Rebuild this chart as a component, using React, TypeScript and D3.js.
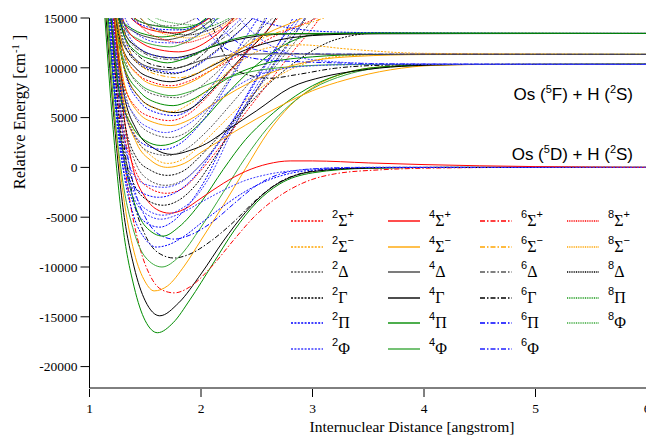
import React from 'react';
import * as d3 from 'd3';

// axis ticks
const X_TICKS = [1, 2, 3, 4, 5, 6];
const Y_TICKS = [15000, 10000, 5000, 0, -5000, -10000, -15000, -20000];

// legend columns (one per spin multiplicity)
const LEGEND_COLS = [
  ['2S+', '2S-', '2D', '2G', '2P', '2F'],
  ['4S+', '4S-', '4D', '4G', '4P', '4F'],
  ['6S+', '6S-', '6D', '6G', '6P', '6F'],
  ['8S+', '8S-', '8D', '8P', '8F'],
];

// dissociation limits
const LIMITS = [
  { term: '5F', y: 10350, off: 36 },
  { term: '5D', y: 0, off: -7 },
];

// potential energy curves: [distance (angstrom), energy (cm-1)]
const CURVES: { s: string; p: [number, number][] }[] = [
  // lower states -> Os(5D) + H(2S)
  { s: '4P', p: [[1.12, 18000], [1.2, 5500], [1.3, -6000], [1.4, -12000], [1.5, -15400], [1.61, -16600], [1.75, -15600], [1.9, -13300], [2.1, -9800], [2.3, -6300], [2.5, -3500], [2.7, -1700], [3.0, -550], [3.5, -90], [4.2, 0], [6, 0]] },
  { s: '4G', p: [[1.13, 18000], [1.2, 7500], [1.3, -4000], [1.4, -10000], [1.5, -13400], [1.63, -14900], [1.8, -13600], [2.0, -10700], [2.2, -7400], [2.4, -4500], [2.6, -2300], [2.8, -1000], [3.0, -420], [3.5, -60], [4.2, 0], [6, 0]] },
  { s: '4S-', p: [[1.14, 18000], [1.21, 7000], [1.3, -2500], [1.4, -8500], [1.5, -11500], [1.58, -12400], [1.7, -11900], [1.85, -9900], [2.0, -7300], [2.2, -3800], [2.4, -100], [2.6, 3500], [2.8, 6200], [3.0, 8000], [3.3, 9500], [3.7, 10150], [4.3, 10330], [6, 10350]] },
  { s: '6S+', p: [[1.17, 18000], [1.25, 7000], [1.35, -2500], [1.45, -8000], [1.55, -11000], [1.65, -12300], [1.76, -12600], [1.9, -12000], [2.1, -9900], [2.3, -7200], [2.5, -4700], [2.7, -2900], [2.95, -1400], [3.2, -650], [3.6, -250], [4.2, -50], [5, 0], [6, 0]] },
  { s: '4F', p: [[1.14, 18000], [1.22, 6000], [1.3, -1500], [1.4, -6500], [1.5, -9000], [1.65, -10000], [1.8, -9000], [2.0, -6000], [2.2, -2500], [2.4, 1000], [2.6, 4000], [2.8, 6300], [3.0, 7900], [3.3, 9300], [3.7, 10100], [4.3, 10330], [6, 10350]] },
  { s: '6G', p: [[1.18, 18000], [1.27, 6000], [1.4, -3500], [1.5, -6800], [1.62, -8600], [1.76, -9100], [1.9, -8700], [2.1, -7300], [2.3, -5400], [2.5, -3200], [2.7, -1500], [2.9, -600], [3.2, -150], [3.8, 0], [6, 0]] },
  { s: '6P', p: [[1.18, 18000], [1.27, 7000], [1.4, -2000], [1.5, -5000], [1.62, -6700], [1.76, -7200], [1.9, -6800], [2.1, -5500], [2.3, -3600], [2.5, -1800], [2.7, -700], [3.0, -150], [3.5, 0], [6, 0]] },
  { s: '2P', p: [[1.15, 18000], [1.22, 8000], [1.3, 0], [1.4, -5000], [1.5, -7200], [1.6, -8000], [1.7, -7800], [1.85, -6900], [2.0, -5600], [2.2, -3900], [2.4, -2400], [2.6, -1300], [2.8, -600], [3.1, -200], [3.6, 0], [6, 0]] },
  { s: '4P', p: [[1.15, 18000], [1.22, 8000], [1.3, 1500], [1.4, -3500], [1.5, -5900], [1.66, -6900], [1.8, -6000], [2.0, -3500], [2.2, -200], [2.4, 2800], [2.6, 5000], [2.8, 6800], [3.0, 8200], [3.3, 9500], [3.7, 10150], [4.3, 10330], [6, 10350]] },
  { s: '4S+', p: [[1.2, 18000], [1.3, 6000], [1.4, -500], [1.5, -3000], [1.6, -4200], [1.72, -4600], [1.85, -4200], [2.0, -3100], [2.2, -1600], [2.4, -400], [2.6, 350], [2.8, 650], [3.0, 650], [3.5, 450], [4, 280], [5, 80], [6, 0]] },
  { s: '2P', p: [[1.16, 18000], [1.25, 4000], [1.4, -3800], [1.5, -5500], [1.63, -6000], [1.75, -5400], [1.9, -3600], [2.05, -1000], [2.2, 2500], [2.35, 6000], [2.5, 9000], [2.7, 12500], [2.9, 15500], [3.0, 17000]] },
  { s: '2F', p: [[1.17, 18000], [1.26, 5000], [1.4, -2500], [1.52, -4300], [1.66, -4800], [1.8, -4300], [1.95, -3000], [2.1, -500], [2.25, 3000], [2.4, 6300], [2.6, 10000], [2.8, 13500], [2.95, 16000]] },
  { s: '2D', p: [[1.2, 18000], [1.28, 6000], [1.4, 800], [1.5, -1000], [1.68, -1800], [1.85, -1200], [2.0, 300], [2.2, 3200], [2.4, 6300], [2.6, 9200], [2.8, 12000], [3.05, 15500]] },
  { s: '2G', p: [[1.2, 18000], [1.3, 5500], [1.42, 1000], [1.55, -300], [1.7, -800], [1.85, -300], [2.0, 1200], [2.2, 3600], [2.4, 6000], [2.6, 8300], [2.9, 11000], [3.2, 12800], [3.6, 13500], [4.2, 13480], [6, 13450]] },
  { s: '2S+', p: [[1.19, 18000], [1.27, 6000], [1.4, 0], [1.5, -1800], [1.69, -2600], [1.85, -2000], [2.0, -300], [2.2, 2500], [2.4, 5500], [2.6, 8400], [2.8, 11300], [3.0, 14000], [3.1, 15500]] },
  { s: '2S-', p: [[1.2, 18000], [1.3, 7500], [1.42, 3000], [1.55, 1200], [1.7, 400], [1.85, 900], [2.0, 2300], [2.2, 4500], [2.4, 6700], [2.6, 8500], [2.9, 10300], [3.3, 11200], [4, 11400], [6, 11350]] },
  { s: '2F', p: [[1.16, 18000], [1.24, 6000], [1.35, -1500], [1.5, -4600], [1.64, -5200], [1.8, -4700], [2.0, -3500], [2.2, -2300], [2.4, -1300], [2.6, -700], [2.9, -250], [3.4, 0], [6, 0]] },
  { s: '2G', p: [[1.18, 18000], [1.26, 5500], [1.38, -1200], [1.52, -3300], [1.66, -3800], [1.8, -3300], [1.95, -1800], [2.1, 600], [2.3, 4200], [2.5, 7800], [2.7, 11200], [2.9, 14300], [3.0, 16000]] },
  { s: '2P', p: [[1.17, 18000], [1.25, 5000], [1.37, -1500], [1.5, -2700], [1.62, -3000], [1.76, -2600], [1.92, -1200], [2.1, 1500], [2.3, 5000], [2.5, 8800], [2.7, 12500], [2.85, 15500]] },
  { s: '2F', p: [[1.18, 18000], [1.27, 6000], [1.4, -800], [1.53, -1800], [1.67, -2000], [1.82, -1500], [2.0, 300], [2.2, 3000], [2.4, 6200], [2.6, 9400], [2.8, 12600], [2.95, 15400]] },
  // upper states
  { s: '4S-', p: [[1.2, 18000], [1.3, 7000], [1.42, 2500], [1.55, 700], [1.7, 0], [1.85, 400], [2.0, 1500], [2.2, 2900], [2.6, 5500], [3.0, 7700], [3.3, 8800], [3.7, 9800], [4.1, 10250], [4.6, 10340], [6, 10350]] },
  { s: '4G', p: [[1.2, 18000], [1.3, 8000], [1.42, 3800], [1.58, 1900], [1.74, 1300], [1.9, 1700], [2.05, 2400], [2.2, 3500], [2.5, 5700], [2.8, 8000], [3.1, 9100], [3.4, 9700], [3.8, 10150], [4.4, 10330], [6, 10350]] },
  { s: '4P', p: [[1.17, 18000], [1.26, 8000], [1.38, 4200], [1.5, 2700], [1.64, 2200], [1.8, 2700], [2.0, 4500], [2.2, 7000], [2.4, 9300], [2.6, 11200], [2.8, 12600], [3.0, 13300], [3.4, 13500], [6, 13450]] },
  { s: '2P', p: [[1.19, 18000], [1.28, 7500], [1.4, 3300], [1.53, 2100], [1.66, 1800], [1.8, 2300], [1.98, 4200], [2.15, 6800], [2.3, 9500], [2.45, 12300], [2.6, 15200]] },
  { s: '2D', p: [[1.21, 18000], [1.3, 8500], [1.42, 4800], [1.56, 3400], [1.72, 3000], [1.88, 3600], [2.05, 5600], [2.2, 8000], [2.35, 10600], [2.5, 13500], [2.6, 15500]] },
  { s: '2P', p: [[1.22, 18000], [1.32, 9500], [1.45, 6600], [1.6, 5500], [1.76, 5200], [1.9, 5800], [2.05, 7500], [2.2, 9800], [2.35, 12200], [2.5, 14800], [2.6, 16500]] },
  { s: '4G', p: [[1.21, 18000], [1.31, 10000], [1.45, 7000], [1.6, 5900], [1.77, 5500], [1.92, 6000], [2.05, 7200], [2.2, 9000], [2.4, 11500], [2.6, 13800], [2.7, 15500]] },
  { s: '4P', p: [[1.2, 18000], [1.3, 10500], [1.45, 7600], [1.6, 6500], [1.75, 6200], [1.9, 6700], [2.1, 8000], [2.3, 9300], [2.6, 10500], [3.0, 11100], [3.5, 11330], [6, 11350]] },
  { s: '4F', p: [[1.2, 18000], [1.3, 11000], [1.45, 8400], [1.6, 7500], [1.74, 7200], [1.9, 7600], [2.1, 8500], [2.4, 9500], [2.8, 10100], [3.3, 10320], [6, 10350]] },
  { s: '2S+', p: [[1.2, 18000], [1.29, 12000], [1.43, 9400], [1.58, 8500], [1.73, 8200], [1.9, 8700], [2.1, 9800], [2.4, 11600], [2.7, 13400], [3.0, 14800], [3.15, 15600]] },
  { s: '4G', p: [[1.19, 18000], [1.28, 12500], [1.42, 9900], [1.58, 8900], [1.73, 8600], [1.9, 9100], [2.1, 10200], [2.4, 11800], [2.7, 12800], [3.1, 13300], [3.6, 13440], [6, 13450]] },
  { s: '6G', p: [[1.22, 18000], [1.32, 13000], [1.46, 11000], [1.6, 10200], [1.77, 10000], [1.92, 10500], [2.05, 11700], [2.2, 13500], [2.32, 15500]] },
  { s: '6G', p: [[2.05, 16000], [2.15, 12800], [2.28, 10100], [2.45, 9200], [2.62, 8950], [2.85, 9300], [3.2, 9950], [3.6, 10250], [4.2, 10340], [6, 10350]] },
  { s: '4F', p: [[1.2, 18000], [1.3, 14200], [1.45, 12800], [1.6, 12250], [1.72, 12100], [1.85, 12500], [2.0, 13500], [2.15, 15000], [2.22, 16000]] },
  { s: '4S+', p: [[1.23, 18000], [1.33, 14000], [1.48, 12400], [1.63, 11800], [1.8, 11600], [1.95, 12000], [2.1, 13000], [2.25, 14500], [2.35, 15800]] },
  { s: '4G', p: [[1.21, 18000], [1.3, 13800], [1.45, 11900], [1.6, 11200], [1.75, 11000], [1.9, 11300], [2.1, 12100], [2.4, 13000], [2.8, 13400], [6, 13450]] },
  { s: '4P', p: [[1.19, 18000], [1.28, 15000], [1.4, 13800], [1.52, 13300], [1.65, 13100], [1.8, 13400], [1.95, 14200], [2.1, 15500]] },
  { s: '4D', p: [[1.2, 18000], [1.3, 14600], [1.42, 13500], [1.55, 13000], [1.67, 12800], [1.82, 13100], [2.0, 14000], [2.15, 15400]] },
  { s: '4P', p: [[1.25, 17000], [1.4, 15000], [1.6, 14200], [1.8, 14000], [1.95, 14300], [2.1, 15200]] },
  { s: '4S+', p: [[1.24, 17000], [1.38, 14900], [1.55, 13800], [1.75, 13500], [1.9, 13800], [2.05, 14800], [2.15, 15600]] },
  { s: '4S-', p: [[1.2, 18000], [1.3, 9000], [1.43, 5600], [1.58, 4500], [1.73, 4200], [1.9, 4800], [2.1, 6300], [2.4, 8300], [2.7, 9800], [3.0, 10700], [3.4, 11150], [4, 11330], [6, 11350]] },
  { s: '2S-', p: [[1.21, 18000], [1.3, 10500], [1.45, 7000], [1.6, 5900], [1.74, 5600], [1.9, 6400], [2.1, 8200], [2.35, 10600], [2.6, 12000], [2.9, 12300], [3.3, 11900], [4, 11450], [6, 11350]] },
  { s: '6P', p: [[1.9, 16000], [2.0, 14500], [2.15, 12500], [2.3, 11500], [2.5, 10900], [2.8, 10650], [3.2, 10500], [4, 10380], [6, 10350]] },
  { s: '6F', p: [[2.05, 16000], [2.2, 13800], [2.35, 12400], [2.55, 11700], [2.8, 11450], [3.2, 11380], [6, 11350]] },
  { s: '2P', p: [[2.2, 16500], [2.5, 14800], [2.8, 14000], [3.2, 13600], [4, 13470], [6, 13450]] },
  { s: '2F', p: [[2.3, 15500], [2.5, 13200], [2.7, 11800], [2.9, 11000], [3.2, 10600], [3.7, 10400], [6, 10350]] },
  { s: '2G', p: [[1.21, 18000], [1.31, 12500], [1.45, 10300], [1.6, 9600], [1.75, 9400], [1.9, 9900], [2.05, 11000], [2.25, 12800], [2.45, 14800], [2.55, 16000]] },
  { s: '8S+', p: [[1.3, 18000], [1.45, 14300], [1.65, 12900], [1.85, 12500], [2.0, 12900], [2.2, 14000], [2.4, 15600]] },
  { s: '8P', p: [[1.32, 18000], [1.5, 15200], [1.7, 14100], [1.9, 13800], [2.1, 14200], [2.3, 15300]] },
  { s: '8D', p: [[1.3, 18000], [1.48, 14700], [1.68, 13600], [1.88, 13300], [2.05, 13700], [2.25, 14800], [2.35, 15600]] },
  { s: '2D', p: [[1.22, 18000], [1.32, 10800], [1.47, 8000], [1.62, 7200], [1.78, 7000], [1.93, 7600], [2.1, 9100], [2.3, 11300], [2.5, 13500], [2.7, 15600]] },
  { s: '2P', p: [[1.22, 18000], [1.33, 12500], [1.48, 10200], [1.63, 9700], [1.78, 9500], [1.93, 10000], [2.1, 11300], [2.3, 13200], [2.5, 15400]] },
  { s: '2F', p: [[1.23, 18000], [1.34, 13500], [1.5, 11600], [1.65, 11100], [1.8, 11000], [1.95, 11400], [2.1, 12400], [2.3, 14300], [2.42, 15600]] },
  { s: '2F', p: [[1.18, 18000], [1.28, 8500], [1.42, 5000], [1.55, 3900], [1.68, 3500], [1.85, 4100], [2.05, 5800], [2.3, 8000], [2.6, 9600], [3.0, 10200], [3.5, 10340], [6, 10350]] },
  { s: '2D', p: [[1.2, 18000], [1.29, 7500], [1.42, 2800], [1.55, 1500], [1.7, 1200], [1.86, 1800], [2.05, 3600], [2.25, 6100], [2.45, 8700], [2.65, 11300], [2.85, 13800], [2.98, 15600]] },
  { s: '2P', p: [[1.24, 18000], [1.36, 15200], [1.52, 14100], [1.66, 13850], [1.8, 13800], [1.95, 14200], [2.1, 15300]] },
  { s: '2F', p: [[1.23, 18000], [1.34, 14500], [1.5, 12900], [1.62, 12550], [1.75, 12500], [1.9, 12900], [2.05, 13900], [2.2, 15500]] },
  { s: '2D', p: [[1.22, 18000], [1.33, 15500], [1.48, 14500], [1.6, 14250], [1.72, 14200], [1.86, 14500], [2.0, 15300]] },
  { s: '6S-', p: [[1.24, 18000], [1.35, 12000], [1.5, 9900], [1.65, 9200], [1.8, 9000], [1.95, 9400], [2.15, 10600], [2.4, 12200], [2.7, 13600], [3.0, 14600], [3.2, 15400]] },
  { s: '6D', p: [[1.23, 18000], [1.34, 13000], [1.5, 11400], [1.65, 10900], [1.8, 10800], [1.95, 11300], [2.15, 12600], [2.35, 14400], [2.45, 15600]] },
  { s: '8S-', p: [[1.3, 18000], [1.5, 14500], [1.7, 13300], [1.9, 13000], [2.05, 13400], [2.25, 14600], [2.4, 15600]] },
  { s: '8F', p: [[1.33, 18000], [1.55, 15300], [1.75, 14500], [1.95, 14300], [2.1, 14700], [2.25, 15500]] },
  { s: '2S+', p: [[1.19, 18000], [1.29, 9000], [1.42, 6000], [1.57, 5000], [1.72, 4700], [1.88, 5300], [2.05, 7000], [2.25, 9500], [2.45, 12000], [2.65, 14500], [2.75, 15800]] },
  { s: '4D', p: [[1.19, 18000], [1.28, 13000], [1.42, 10800], [1.56, 10000], [1.7, 9800], [1.86, 10200], [2.05, 10900], [2.3, 11300], [2.6, 11400], [3.2, 11360], [6, 11350]] },
  { s: '4S-', p: [[1.21, 18000], [1.31, 11500], [1.46, 9000], [1.6, 8200], [1.75, 8000], [1.9, 8500], [2.1, 9800], [2.35, 11800], [2.6, 13500], [2.85, 14700], [3.0, 15500]] },
  { s: '4P', p: [[1.2, 18000], [1.3, 13500], [1.43, 11500], [1.57, 10800], [1.7, 10500], [1.85, 10900], [2.05, 11900], [2.3, 12900], [2.6, 13400], [3.2, 13460], [6, 13450]] },
];

const DOT = '2,1.4';
const DASHDOT = '5,2,1.5,2';
const FINE = '1,0.8';
const STYLE: Record<string, { c: string; d?: string }> = {
  '2S+': { c: '#ff0000', d: DOT }, '2S-': { c: '#ffa500', d: DOT }, '2D': { c: '#555555', d: DOT },
  '2G': { c: '#000000', d: DOT }, '2P': { c: '#0000ff', d: DOT }, '2F': { c: '#3c3cff', d: DOT },
  '4S+': { c: '#ff0000' }, '4S-': { c: '#ffa500' }, '4D': { c: '#444444' },
  '4G': { c: '#000000' }, '4P': { c: '#008c00' }, '4F': { c: '#3aa83a' },
  '6S+': { c: '#ff0000', d: DASHDOT }, '6S-': { c: '#ffa500', d: DASHDOT }, '6D': { c: '#555555', d: DASHDOT },
  '6G': { c: '#000000', d: DASHDOT }, '6P': { c: '#0000ff', d: DASHDOT }, '6F': { c: '#2020ff', d: DASHDOT },
  '8S+': { c: '#ff0000', d: FINE }, '8S-': { c: '#ffa500', d: FINE }, '8D': { c: '#000000', d: FINE },
  '8P': { c: '#1a9a1a', d: FINE }, '8F': { c: '#3aa83a', d: FINE },
};

const SYM: Record<string, [string, string]> = {
  'S+': ['Σ', '+'], 'S-': ['Σ', '−'], D: ['Δ', ''], G: ['Γ', ''], P: ['Π', ''], F: ['Φ', ''],
};

const W = 646;
const H = 435;
const serif = '"Liberation Serif", "Times New Roman", serif';
const sans = '"Liberation Sans", Arial, sans-serif';

export default function App() {
  const x = d3.scaleLinear().domain([1, 6]).range([89.5, 647]);
  const y = d3.scaleLinear().domain([-22100, 15000]).range([387.5, 18]);
  const line = d3.line<[number, number]>()
    .x(d => x(d[0]))
    .y(d => y(d[1]))
    .curve(d3.curveMonotoneX);

  const left = x(1);
  const bottom = 388;

  return (
    <svg width={W} height={H} style={{ position: 'absolute', left: 0, top: 0, background: '#fff' }}>
      <defs>
        <clipPath id="plot">
          <rect x={left} y={y(15000)} width={W - left} height={bottom - y(15000)} />
        </clipPath>
      </defs>

      <g clipPath="url(#plot)" fill="none" strokeWidth={1}>
        {CURVES.map((c, i) => (
          <path key={i} d={line(c.p) || ''} stroke={STYLE[c.s].c} strokeDasharray={STYLE[c.s].d} />
        ))}
      </g>

      {/* axes */}
      <line x1={left} x2={left} y1={y(15000)} y2={bottom} stroke="#000" />
      <line x1={left} x2={W} y1={bottom} y2={bottom} stroke="#000" />
      {Y_TICKS.map(t => (
        <g key={t}>
          <line x1={left - 9} x2={left} y1={y(t)} y2={y(t)} stroke="#000" />
          <text x={left - 12} y={y(t)} dy="0.35em" textAnchor="end" fontFamily={serif} fontSize={13.5}>{t}</text>
        </g>
      ))}
      {X_TICKS.map(t => (
        <g key={t}>
          <line x1={x(t)} x2={x(t)} y1={bottom + 1} y2={bottom + 9} stroke="#000" />
          <text x={x(t)} y={413} textAnchor="middle" fontFamily={serif} fontSize={13.5}>{t}</text>
        </g>
      ))}
      <text x={412} y={432} textAnchor="middle" fontFamily={serif} fontSize={15.5}>Internuclear Distance [angstrom]</text>
      <text transform="translate(25,112) rotate(-90)" textAnchor="middle" fontFamily={serif} fontSize={16.5}>
        Relative Energy [cm<tspan fontSize={10.5} dy={-6}>-1</tspan><tspan dy={6}> ]</tspan>
      </text>

      {/* dissociation limits */}
      {LIMITS.map(l => (
        <text key={l.term} x={633} y={y(l.y) + l.off} textAnchor="end" fontFamily={sans} fontSize={17}>
          Os (<tspan fontSize={11} dy={-7}>{l.term[0]}</tspan><tspan dy={7}>{l.term[1]}) + H (</tspan>
          <tspan fontSize={11} dy={-7}>2</tspan><tspan dy={7}>S)</tspan>
        </text>
      ))}

      {/* legend */}
      {LEGEND_COLS.map((col, ci) => {
        const lx = [291, 388, 480, 567][ci];
        return col.map((k, ri) => {
          const ry = Math.round(221 + ri * 25.6);
          const st = STYLE[k];
          const [g, sign] = SYM[k.slice(1)];
          return (
            <g key={k}>
              <line x1={lx} x2={lx + 32} y1={ry} y2={ry} stroke={st.c} strokeWidth={1.4} strokeDasharray={st.d} />
              <text x={lx + 41} y={ry - 3} fontFamily={sans} fontSize={11}>
                {k[0]}
                <tspan fontFamily={serif} fontSize={16} dy={8}>{g}</tspan>
                {sign && <tspan fontSize={11} dy={-8}>{sign}</tspan>}
              </text>
            </g>
          );
        });
      })}
    </svg>
  );
}
